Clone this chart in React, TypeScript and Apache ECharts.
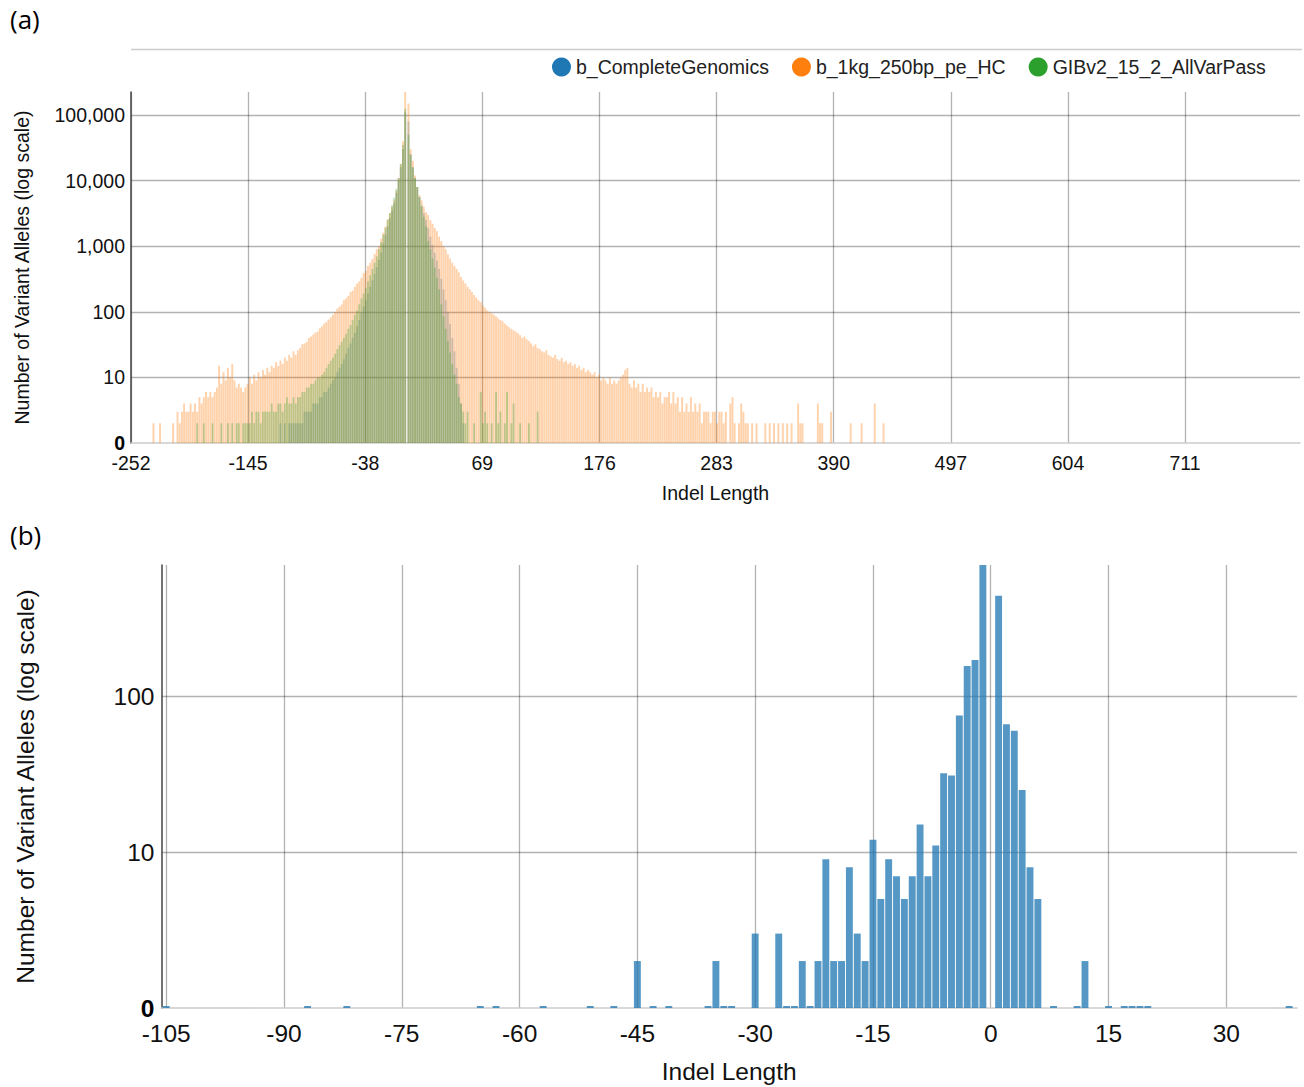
import React, { useEffect, useRef } from "react";
import * as echarts from "echarts";

// ---------- Panel (a): counts per 2-unit indel-length bin ----------
// Bins are listed from the centre outwards: left bins centred at -1.5, -3.5, ...
// right bins centred at 1.5, 3.5, ... (length 0 has no bin).
const BIN_WIDTH = 2;
const FIRST_BIN_CENTER = 1.5;

const orangeLeft = [
  240000, 40000, 18000, 11000, 7000, 5000, 4000, 3200, 2600, 2000,
  1600, 1300, 1000, 900, 760, 640, 560, 500, 420, 390,
  330, 290, 270, 240, 210, 200, 175, 160, 150, 130,
  120, 112, 100, 90, 82, 76, 70, 66, 60, 56,
  50, 48, 45, 42, 40, 35, 33, 32, 28, 26,
  22, 25, 20, 22, 18, 20, 16, 18, 15, 17,
  14, 15, 12, 14, 11, 13, 10, 12, 9, 11,
  8, 10, 8, 7, 6, 7, 8, 7, 9, 16,
  10, 14, 9, 12, 8, 15, 7, 6, 5, 6,
  5, 6, 5, 4, 5, 3, 4, 3, 4, 3,
  3, 4, 3, 2, 3, 1, 2, 1, 1, 1,
  1, 1, 2, 1, 1, 2, 1, 1,
];
const orangeRight = [
  150000, 30000, 20000, 12000, 8000, 6000, 5000, 4000, 3300, 3000,
  2500, 2200, 1900, 1700, 1400, 1200, 1000, 900, 750, 650,
  560, 500, 450, 400, 340, 300, 270, 240, 220, 200,
  180, 165, 150, 140, 125, 115, 105, 100, 95, 90,
  85, 80, 75, 72, 66, 62, 58, 55, 52, 50,
  47, 44, 40, 42, 38, 36, 33, 30, 32, 28,
  27, 25, 24, 26, 22, 21, 20, 22, 19, 18,
  20, 17, 18, 16, 17, 15, 16, 14, 15, 13,
  14, 12, 13, 12, 11, 12, 10, 11, 9, 10,
  9, 8, 10, 8, 9, 8, 9, 10, 11, 13,
  14, 8, 7, 9, 7, 8, 6, 8, 6, 7,
  6, 7, 5, 6, 5, 6, 4, 5, 5, 6,
  4, 6, 4, 5, 3, 5, 3, 4, 3, 5,
  3, 4, 3, 4, 2, 3, 3, 3, 2, 3,
  3, 2, 3, 3, 2, 3, 1, 4, 5, 2,
  1, 2, 4, 3, 2, 2, 1, 2, 1, 2,
  1, 1, 1, 2, 1, 2, 1, 2, 1, 2,
  1, 2, 1, 2, 1, 2, 1, 1, 4, 2,
  2, 1, 1, 1, 1, 1, 1, 4, 2, 2,
  1, 1, 1, 3, 1, 1, 1, 1, 1, 1,
  1, 1, 2, 1, 1, 1, 1, 2, 1, 1,
  1, 1, 1, 4, 1, 1, 1, 2,
];
const greenLeft = [
  125000, 35000, 18000, 11000, 7500, 5500, 4200, 3200, 2500, 1900,
  1500, 1150, 900, 700, 560, 450, 360, 290, 230, 190,
  160, 130, 105, 90, 75, 63, 55, 46, 40, 35,
  31, 27, 23, 20, 18, 16, 14, 12, 11, 10,
  10, 9, 8, 8, 7, 7, 6, 6, 5, 5,
  4, 5, 4, 4, 5, 4, 3, 4, 4, 3,
  3, 4, 3, 3, 3, 3, 2, 3, 3, 2,
  3, 2, 2, 2, 2, 1, 2, 2, 1, 2,
  1, 2, 1, 1, 2, 1, 1, 1, 2, 1,
  1, 1, 2, 1, 1, 2,
];
const greenRight = [
  50000, 25000, 16000, 11000, 8000, 5600, 4000, 2800, 2000, 1200,
  900, 650, 470, 330, 220, 130, 85, 55, 36, 24,
  16, 11, 8, 5, 4, 3, 2, 3, 1, 1,
  2, 1, 1, 6, 2, 3, 2, 1, 2, 1,
  6, 2, 3, 1, 2, 6, 1, 2, 4, 1,
  1, 2, 1, 1, 1, 2, 1, 1, 1, 3,
];
const blueLeft = [
  110000, 30000, 16000, 10000, 6500, 4500, 3500, 2700, 2000, 1500,
  1100, 800, 620, 480, 380, 300, 240, 190, 150, 120,
  95, 75, 60, 48, 40, 33, 28, 23, 19, 16,
  14, 12, 10, 9, 8, 7, 6, 6, 5, 5,
  4, 4, 4, 3, 3, 3, 3, 2, 2, 2,
  2, 2, 2, 2, 1, 2, 1, 2, 1, 1,
];
const blueRight = [
  80000, 25000, 16000, 11000, 8000, 5600, 4200, 3200, 2500, 1900,
  1400, 1050, 800, 600, 450, 320, 220, 150, 100, 65,
  40, 25, 14, 8, 4, 2, 1,
];

const xTickStartA = -252;
const xTickStepA = 107;
const xMaxA = 816;
const yMaxA = 224400;

// ---------- Panel (b) ----------
const indelLengthsB = [
  -105, -87, -82, -65, -63, -57, -51, -48, -45, -43, -41, -36, -35, -34, -33,
  -30, -27, -26, -25, -24, -23, -22, -21, -20, -19, -18, -17, -16, -15,
  -14, -13, -12, -11, -10, -9, -8, -7, -6, -5, -4, -3, -2, -1,
  1, 2, 3, 4, 5, 6, 8, 11, 12, 15, 17, 18, 19, 20, 38,
];
const alleleCountsB = [
  1, 1, 1, 1, 1, 1, 1, 1, 2, 1, 1, 1, 2, 1, 1,
  3, 3, 1, 1, 2, 1, 2, 9, 2, 2, 8, 3, 2, 12,
  5, 9, 7, 5, 7, 15, 7, 11, 32, 31, 75, 156, 170, 900,
  440, 66, 60, 25, 8, 5, 1, 1, 2, 1, 1, 1, 1, 1, 1,
];
const xTicksB = [-105, -90, -75, -60, -45, -30, -15, 0, 15, 30];
const xMinB = -105.6;
const xMaxB = 39;
const yMaxB = 692;

const SERIES_NAMES = ["b_CompleteGenomics", "b_1kg_250bp_pe_HC", "GIBv2_15_2_AllVarPass"];
const SOLID = ["#1f77b4", "#ff7f0e", "#2ca02c"];
const FILL = ["rgba(31,119,180,0.30)", "rgba(255,127,14,0.35)", "rgba(44,160,44,0.30)"];

const FONT = "'Liberation Sans', Arial, sans-serif";

function binsToPairs(left: number[], right: number[]) {
  const out: [number, number][] = [];
  for (let i = left.length - 1; i >= 0; i--) out.push([-(FIRST_BIN_CENTER + BIN_WIDTH * i), left[i]]);
  for (let i = 0; i < right.length; i++) out.push([FIRST_BIN_CENTER + BIN_WIDTH * i, right[i]]);
  return out;
}

function logLabel(size: number, lineHeight: number) {
  return {
    formatter: (v: number) => {
      const r = Math.round(v);
      if (r === 1) return "{b|0}";
      return r.toLocaleString("en-US");
    },
    rich: { b: { fontWeight: "bold", fontSize: size, lineHeight, color: "#000", fontFamily: FONT } },
  };
}

export default function App() {
  const ref = useRef<HTMLDivElement>(null);

  useEffect(() => {
    if (!ref.current) return;
    const chart = echarts.init(ref.current, null, { renderer: "svg" });

    const gridA = { left: 131, top: 92, width: 1169, height: 351 };
    const gridB = { left: 161.5, top: 565, width: 1135.5, height: 443 };
    // bars slightly narrower than a bin so thin white seams show, like the interleaved original
    const barPxA = (gridA.width / (xMaxA - xTickStartA)) * BIN_WIDTH * 0.88;

    const pairsA = [
      binsToPairs(blueLeft, blueRight),
      binsToPairs(orangeLeft, orangeRight),
      binsToPairs(greenLeft, greenRight),
    ];
    const pairsB = indelLengthsB.map((x, i) => [x, alleleCountsB[i]]);

    const gridLine = { color: "rgba(0,0,0,0.3)", width: 1.3 };
    const labelA = { fontSize: 19.5, color: "#111", fontFamily: FONT };
    const labelB = { fontSize: 24.5, color: "#111", fontFamily: FONT };

    const option: any = {
      animation: false,
      textStyle: { fontFamily: FONT },
      graphic: [
        { type: "text", left: 10, top: 6, style: { text: "(a)", fontSize: 26, fontFamily: "'Open Sans', sans-serif", fill: "#000" } },
        { type: "text", left: 10, top: 522, style: { text: "(b)", fontSize: 26, fontFamily: "'Open Sans', sans-serif", fill: "#000" } },
        { type: "line", shape: { x1: 131, y1: 49.5, x2: 1302, y2: 49.5 }, style: { stroke: "#cccccc", lineWidth: 1.3 } },
      ],
      legend: {
        left: 547,
        top: 52,
        icon: "circle",
        itemWidth: 19,
        itemHeight: 19,
        itemGap: 23,
        selectedMode: false,
        textStyle: { fontSize: 19.5, color: "#222", fontFamily: FONT },
        data: SERIES_NAMES.map((n, i) => ({ name: n, itemStyle: { color: SOLID[i] } })),
      },
      grid: [
        { ...gridA, containLabel: false, outerBoundsMode: "none" },
        { ...gridB, containLabel: false, outerBoundsMode: "none" },
      ],
      xAxis: [
        {
          gridIndex: 0,
          type: "value",
          min: xTickStartA,
          max: xMaxA,
          interval: xTickStepA,
          name: "Indel Length",
          nameLocation: "middle",
          nameGap: 40,
          nameTextStyle: { fontSize: 19.5, color: "#111", fontFamily: FONT },
          axisLine: { show: true, onZero: false, lineStyle: { color: "#cccccc", width: 1.5 } },
          axisTick: { show: false },
          axisLabel: { ...labelA, margin: 11, lineHeight: 18, showMaxLabel: false },
          splitLine: { show: true, showMaxLine: false, lineStyle: gridLine },
        },
        {
          gridIndex: 1,
          type: "value",
          min: xMinB,
          max: xMaxB,
          name: "Indel Length",
          nameLocation: "middle",
          nameGap: 51,
          nameTextStyle: { fontSize: 24.5, color: "#111", fontFamily: FONT },
          axisLine: { show: true, onZero: false, lineStyle: { color: "#cccccc", width: 1.5 } },
          axisTick: { show: false, customValues: xTicksB },
          axisLabel: { ...labelB, margin: 14, lineHeight: 22, customValues: xTicksB },
          splitLine: { show: true, lineStyle: gridLine },
        },
      ],
      yAxis: [
        {
          gridIndex: 0,
          type: "log",
          logBase: 10,
          min: 1,
          max: yMaxA,
          name: "Number of Variant Alleles (log scale)",
          nameLocation: "middle",
          nameRotate: 90,
          nameGap: 99,
          nameTextStyle: { fontSize: 19.5, color: "#111", fontFamily: FONT },
          axisLine: { show: true, onZero: false, lineStyle: { color: "#444", width: 1.5 } },
          axisTick: { show: false },
          axisLabel: { ...labelA, margin: 6, lineHeight: 16, showMaxLabel: false, ...logLabel(19.5, 16) },
          splitLine: { show: true, showMaxLine: false, showMinLine: false, lineStyle: gridLine },
        },
        {
          gridIndex: 1,
          type: "log",
          logBase: 10,
          min: 1,
          max: yMaxB,
          name: "Number of Variant Alleles (log scale)",
          nameLocation: "middle",
          nameRotate: 90,
          nameGap: 124,
          nameTextStyle: { fontSize: 24.5, color: "#111", fontFamily: FONT },
          axisLine: { show: true, onZero: false, lineStyle: { color: "#444", width: 1.5 } },
          axisTick: { show: false },
          axisLabel: { ...labelB, margin: 7, lineHeight: 20, showMaxLabel: false, ...logLabel(24.5, 20) },
          splitLine: { show: true, showMaxLine: false, showMinLine: false, lineStyle: gridLine },
        },
      ],
      series: [
        ...SERIES_NAMES.map((name, i) => ({
          name,
          type: "bar",
          xAxisIndex: 0,
          yAxisIndex: 0,
          data: pairsA[i],
          barWidth: barPxA,
          barGap: "-100%",
          silent: true,
          itemStyle: { color: FILL[i] },
        })),
        {
          name: "panelB",
          type: "bar",
          xAxisIndex: 1,
          yAxisIndex: 1,
          data: pairsB,
          barWidth: 6.9,
          barMinHeight: 2,
          silent: true,
          itemStyle: { color: "rgba(31,119,180,0.76)" },
        },
      ],
    };

    chart.setOption(option);
    return () => chart.dispose();
  }, []);

  return (
    <div
      ref={ref}
      style={{ position: "fixed", left: 0, top: 0, width: 1304, height: 1087, background: "#fff" }}
    />
  );
}
